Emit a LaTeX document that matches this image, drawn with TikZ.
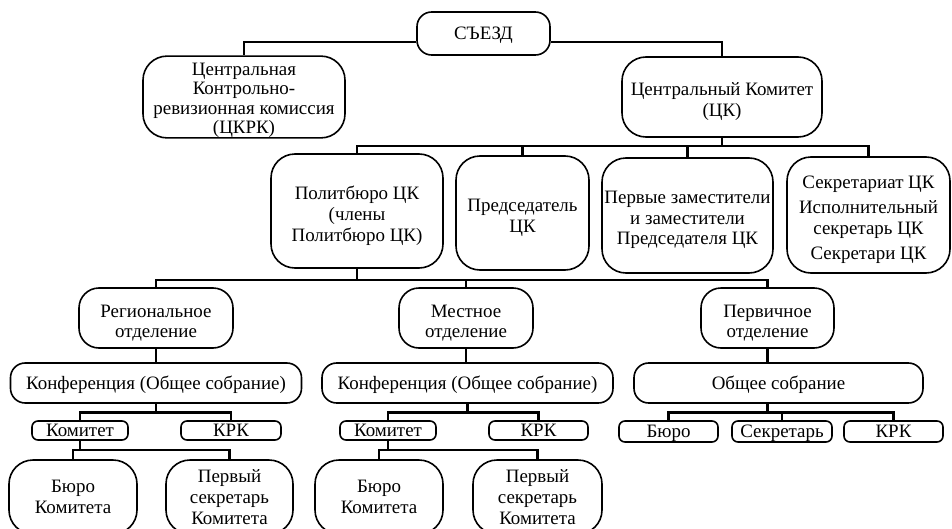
\documentclass[tikz,border=0pt]{standalone}
\usepackage{fontspec}
\setmainfont{Liberation Serif}
\newcommand{\up}[1]{\rule{0pt}{#1}}
\begin{document}
\begin{tikzpicture}[x=0.75pt,y=-0.75pt]
\tikzset{
  box/.style={draw, line width=1.2pt, align=center, inner sep=0pt,
    font=\fontsize{14.2}{15.6}\selectfont},
  sz/.style 2 args={minimum width=#1*0.75pt, minimum height=#2*0.75pt},
  oneline/.style={text height=9.4pt, text depth=0pt},
  big/.style={rounded corners=18pt},
  mid/.style={rounded corners=15pt},
  wide/.style={rounded corners=11pt, oneline},
  small/.style={rounded corners=4.5pt, oneline},
  conn/.style={line width=1.8pt},
}
\useasboundingbox (0,0) rectangle (952,528);
\fill[white] (0,0) rectangle (952,528);

% level 0-1
\node[box, wide, sz={133}{43}] (szd) at (483.5,33.5) {СЪЕЗД};
\node[box, big, sz={202}{80}, font=\fontsize{14.2}{14.6}\selectfont] (ckrk) at (244,97)
  {\up{14.5pt}Центральная\\Контрольно-\\ревизионная комиссия\\(ЦКРК)};
\node[box, big, sz={200}{80}] (ck) at (722,97) {\up{17pt}Центральный Комитет\\(ЦК)};

% level 2
\node[box, big, sz={172}{114}] (pb) at (357,211) {\up{17pt}Политбюро ЦК\\(члены\\Политбюро ЦК)};
\node[box, big, sz={133}{114}] (pr) at (522.5,213) {\up{17pt}Председатель\\ЦК};
\node[box, big, sz={171}{115}] (pz) at (687.5,215.5) {\up{16pt}Первые заместители\\и заместители\\Председателя ЦК};
\node[box, big, sz={163}{116}] (sec) at (868.5,215) {\up{16.5pt}Секретариат ЦК\\[3.5pt]Исполнительный\\секретарь ЦК\\[3.5pt]Секретари ЦК};

% level 3
\node[box, mid, sz={154}{60}] (reg) at (156,318) {\up{17pt}Региональное\\отделение};
\node[box, mid, sz={134}{60}] (mest) at (466,318) {\up{17pt}Местное\\отделение};
\node[box, mid, sz={133}{60}] (perv) at (767.5,318) {\up{17pt}Первичное\\отделение};

\node[box, wide, sz={291}{40}] (konf1) at (156,383) {Конференция (Общее собрание)};
\node[box, wide, sz={291}{40}] (konf2) at (467.5,383) {Конференция (Общее собрание)};
\node[box, wide, sz={289}{40}] (os) at (778.5,383) {Общее собрание};

\node[box, small, sz={96}{19}] (kom1) at (80,430.5) {Комитет};
\node[box, small, sz={100}{19}] (krk1) at (231,430.5) {КРК};
\node[box, small, sz={96}{19}] (kom2) at (388,430.5) {Комитет};
\node[box, small, sz={99}{19}] (krk2) at (538.5,430.5) {КРК};
\node[box, small, sz={99}{21}] (bur3) at (668.5,431.5) {Бюро};
\node[box, small, sz={100}{21}] (sekr) at (782,431.5) {Секретарь};
\node[box, small, sz={99}{21}] (krk3) at (893.5,431.5) {КРК};

\node[box, big, sz={128}{74}] (bur1) at (73,497) {Бюро\\Комитета};
\node[box, big, sz={127}{74}] (pst1) at (229.5,497) {Первый\\секретарь\\Комитета};
\node[box, big, sz={128}{74}] (bur2) at (379,497) {Бюро\\Комитета};
\node[box, big, sz={129}{74}] (pst2) at (537.5,497) {Первый\\секретарь\\Комитета};

% bus levels
\coordinate (b1) at (0,146);
\coordinate (b2) at (0,280);
\coordinate (b3) at (0,412.5);
\coordinate (b4) at (0,450);

% connectors
\draw[conn] ([yshift=-6.4pt]szd.west) -| (ckrk.north);
\draw[conn] ([yshift=-6.4pt]szd.east) -| (ck.north);

\draw[conn] (ck.south) -- (ck.south |- b1);
\draw[conn] (pb.north) -- (pb.north |- b1) -- (sec.north |- b1) -- (sec.north);
\draw[conn] (pr.north) -- (pr.north |- b1);
\draw[conn] (pz.north) -- (pz.north |- b1);

\draw[conn] (pb.south) -- (pb.south |- b2);
\draw[conn] (reg.north) -- (reg.north |- b2) -- (perv.north |- b2) -- (perv.north);
\draw[conn] (mest.north) -- (mest.north |- b2);

\draw[conn] (reg.south) -- (konf1.north);
\draw[conn] (mest.south) -- (mest.south |- konf2.north);
\draw[conn] (perv.south) -- (perv.south |- os.north);

\draw[conn] (konf1.south) -- (konf1.south |- b3);
\draw[conn] (kom1.north) -- (kom1.north |- b3) -- (krk1.north |- b3) -- (krk1.north);
\draw[conn] (konf2.south) -- (konf2.south |- b3);
\draw[conn] (kom2.north) -- (kom2.north |- b3) -- (krk2.north |- b3) -- (krk2.north);
\draw[conn] (perv.south |- os.south) -- (perv.south |- b3);
\draw[conn] (bur3.north) -- (bur3.north |- b3) -- (krk3.north |- b3) -- (krk3.north);
\draw[conn] (sekr.north) -- (sekr.north |- b3);

\draw[conn] (kom1.south) -- (kom1.south |- b4);
\draw[conn] (bur1.north) -- (bur1.north |- b4) -- (pst1.north |- b4) -- (pst1.north);
\draw[conn] (kom2.south) -- (kom2.south |- b4);
\draw[conn] (bur2.north) -- (bur2.north |- b4) -- (pst2.north |- b4) -- (pst2.north);
\end{tikzpicture}
\end{document}
